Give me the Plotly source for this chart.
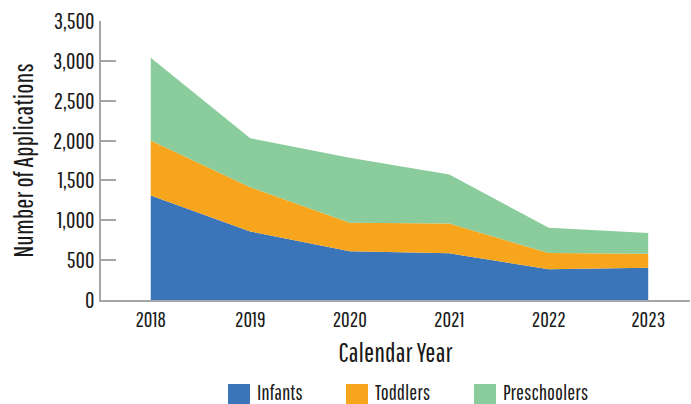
import plotly.graph_objects as go

years = ["2018", "2019", "2020", "2021", "2022", "2023"]
infants = [1310, 860, 610, 585, 385, 405]
toddlers = [690, 555, 360, 375, 205, 175]
preschoolers = [1040, 615, 815, 615, 315, 260]

series_names = ["Infants", "Toddlers", "Preschoolers"]
series_values = [infants, toddlers, preschoolers]
series_colors = ["#3a74b9", "#f6a51c", "#8acc9b"]

y_ticks = [0, 500, 1000, 1500, 2000, 2500, 3000, 3500]
y_tick_text = ["0", "500", "1,000", "1,500", "2,000", "2,500", "3,000", "3,500"]

FONT = "Pathway Gothic One, Oswald, Roboto Condensed, sans-serif"
AXIS_GREY = "#a6a6a6"

# plot-area geometry in pixels (used to place the legend keys)
L, R, T, B, W, H = 101, 1, 21, 104, 691, 404
pw, ph = W - L - R, H - T - B


def px_to_paper_x(px):
    return (px - L) / pw


def px_to_paper_y(py):
    return (H - B - py) / ph


fig = go.Figure()
for name, vals, color in zip(series_names, series_values, series_colors):
    fig.add_trace(go.Scatter(
        x=list(range(len(years))), y=vals, name=name,
        mode="lines", stackgroup="one",
        line=dict(width=0, color=color), fillcolor=color,
        hoverinfo="skip", showlegend=False,
    ))

# legend: coloured squares with labels underneath the axis title
key_left = [228, 346, 474]
for name, color, kx in zip(series_names, series_colors, key_left):
    fig.add_shape(type="rect", xref="paper", yref="paper",
                  x0=px_to_paper_x(kx), x1=px_to_paper_x(kx + 22),
                  y0=px_to_paper_y(405), y1=px_to_paper_y(384),
                  fillcolor=color, line=dict(width=0), layer="above")
    fig.add_annotation(text=name, xref="paper", yref="paper",
                       x=px_to_paper_x(kx + 28), y=px_to_paper_y(392),
                       xanchor="left", yanchor="middle", showarrow=False,
                       height=22, valign="middle", borderpad=0,
                       font=dict(size=21))

fig.update_layout(
    width=W, height=H,
    margin=dict(l=L, r=R, t=T, b=B),
    plot_bgcolor="white", paper_bgcolor="white",
    font=dict(family=FONT, color="#1a1a1a", size=22),
    showlegend=False,
)
fig.update_xaxes(
    range=[-0.5, 5.42],
    tickvals=list(range(len(years))), ticktext=years,
    showline=True, linecolor=AXIS_GREY, linewidth=2,
    ticks="", showgrid=False, zeroline=False,
    tickfont=dict(size=21),
    title=dict(text="Calendar Year", font=dict(size=27), standoff=13),
)
fig.update_yaxes(
    range=[0, 3500],
    tickvals=y_ticks, ticktext=y_tick_text,
    showline=True, linecolor=AXIS_GREY, linewidth=2,
    ticks="inside", ticklen=15, tickcolor=AXIS_GREY, tickwidth=2,
    showgrid=False, zeroline=False,
    tickfont=dict(size=23),
    title=dict(text="Number of Applications", font=dict(size=27), standoff=11),
)

fig.write_html("out.html")
